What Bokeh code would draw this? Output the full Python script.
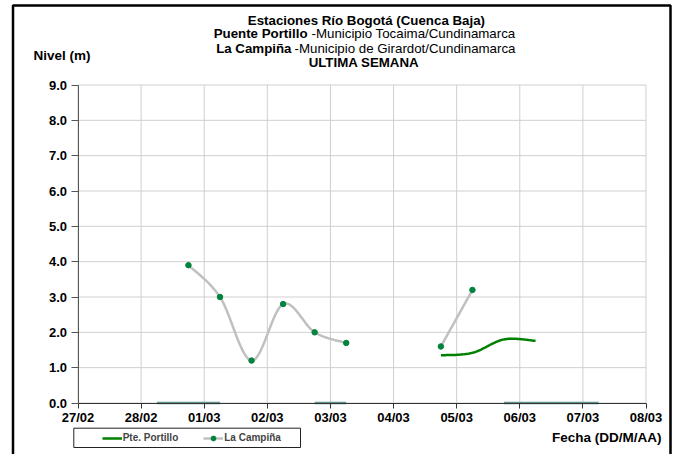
import numpy as np
import pandas as pd
from bokeh.plotting import figure
from bokeh.models import (FixedTicker, DatetimeTickFormatter, PrintfTickFormatter,
                          Label, Legend, LegendItem, BoxAnnotation, Range1d)
from bokeh.embed import file_html
from bokeh.resources import INLINE

# ---------------- data ----------------
fechas_eje = ["2019-02-27", "2019-02-28", "2019-03-01", "2019-03-02", "2019-03-03",
              "2019-03-04", "2019-03-05", "2019-03-06", "2019-03-07", "2019-03-08"]
niveles_eje = [0.0, 1.0, 2.0, 3.0, 4.0, 5.0, 6.0, 7.0, 8.0, 9.0]

portillo_fecha = ["2019-03-04 18:00", "2019-03-05 06:00", "2019-03-05 18:00", "2019-03-06 06:00"]
portillo_nivel = [1.35, 1.42, 1.80, 1.76]

campina_fecha = ["2019-02-28 18:00", "2019-03-01 06:00", "2019-03-01 18:00", "2019-03-02 06:00",
                 "2019-03-02 18:00", "2019-03-03 06:00", "2019-03-03 18:00", "2019-03-04 06:00",
                 "2019-03-04 18:00", "2019-03-05 06:00"]
campina_nivel = [3.9, 3.0, 1.2, 2.8, 2.0, 1.7, None, None, 1.6, 3.2]

# readings at 0.0 drawn on the axis
cero_inicio = ["2019-02-28 06:00", "2019-03-02 18:00", "2019-03-05 18:00"]
cero_fin = ["2019-03-01 06:00", "2019-03-03 06:00", "2019-03-07 06:00"]

titulo_1 = "Estaciones Río Bogotá (Cuenca Baja)"
titulo_2a, titulo_2b = "Puente Portillo", "-Municipio Tocaima/Cundinamarca"
titulo_3a, titulo_3b = "La Campiña", "-Municipio de Girardot/Cundinamarca"
titulo_4 = "ULTIMA SEMANA"
eje_y_titulo = "Nivel (m)"
eje_x_titulo = "Fecha (DD/M/AA)"

# ---------------- helpers ----------------
def ms(fechas):
    return pd.to_datetime(pd.Series(fechas)).astype("int64").to_numpy() / 1e6


def suavizar(xs, ys, n=30):
    """Excel-like smoothed line (cubic Bezier through each reading)."""
    xs = np.asarray(xs, dtype=float)
    ys = np.array([np.nan if v is None else v for v in ys], dtype=float)
    segs, cur = [], []
    for x, y in zip(xs, ys):
        if np.isnan(y):
            if cur:
                segs.append(cur)
            cur = []
        else:
            cur.append((x, y))
    if cur:
        segs.append(cur)
    ox, oy = [], []
    t = np.linspace(0, 1, n)[:, None]
    for seg in segs:
        P = np.array(seg)
        m = len(P)
        if m == 1:
            ox += [P[0, 0]]; oy += [P[0, 1]]
        for i in range(m - 1):
            p0 = P[max(i - 1, 0)]; p1 = P[i]; p2 = P[i + 1]; p3 = P[min(i + 2, m - 1)]
            c1 = p1 + (p2 - p0) / 6.0
            c2 = p2 - (p3 - p1) / 6.0
            B = ((1 - t) ** 3) * p1 + 3 * ((1 - t) ** 2) * t * c1 + 3 * (1 - t) * t ** 2 * c2 + t ** 3 * p2
            ox += list(B[:, 0]); oy += list(B[:, 1])
        ox.append(np.nan); oy.append(np.nan)
    return np.array(ox), np.array(oy)


# ---------------- layout (pixels on the page) ----------------
W, H = 679, 454
X_FIRST_PX, X_LAST_PX = 77.5, 645.5     # first / last date tick
Y_ZERO_PX, Y_TOP_PX = 402.5, 84.5       # level 0 / level 9

def sx(page_x):          # frame covers the whole canvas
    return page_x
def sy(page_y):
    return H - page_y

eje_ms = ms(fechas_eje)
x_per_px = (eje_ms[-1] - eje_ms[0]) / (X_LAST_PX - X_FIRST_PX)
y_per_px = (niveles_eje[-1] - niveles_eje[0]) / (Y_ZERO_PX - Y_TOP_PX)
x_range = Range1d(eje_ms[0] - X_FIRST_PX * x_per_px, eje_ms[-1] + (W - X_LAST_PX) * x_per_px)
y_range = Range1d(niveles_eje[0] - (H - Y_ZERO_PX) * y_per_px, niveles_eje[-1] + Y_TOP_PX * y_per_px)

# ---------------- figure ----------------
p = figure(width=W, height=H, output_backend="svg", toolbar_location=None,
           x_axis_type="datetime", title=None, x_range=x_range, y_range=y_range,
           min_border=0, min_border_left=0, min_border_right=0,
           min_border_top=0, min_border_bottom=0)
p.background_fill_color = "white"
p.border_fill_color = "white"
p.outline_line_color = None
p.xgrid.visible = False
p.ygrid.visible = False

GRID = "#cfcfcf"
# grid lines of the plotting area
p.segment(x0=eje_ms, y0=[niveles_eje[0]] * len(eje_ms), x1=eje_ms, y1=[niveles_eje[-1]] * len(eje_ms),
          line_color=GRID, line_width=1)
p.segment(x0=[eje_ms[0]] * len(niveles_eje), y0=niveles_eje, x1=[eje_ms[-1]] * len(niveles_eje),
          y1=niveles_eje, line_color=GRID, line_width=1)

# axes, pinned to the plotting area
p.xaxis.fixed_location = niveles_eje[0]
p.xaxis.bounds = (eje_ms[0], eje_ms[-1])
p.yaxis.fixed_location = eje_ms[0]
p.yaxis.bounds = (niveles_eje[0], niveles_eje[-1])
p.xaxis.ticker = FixedTicker(ticks=list(eje_ms))
p.xaxis.formatter = DatetimeTickFormatter(days="%d/%m", months="%d/%m", hours="%d/%m")
p.yaxis.ticker = FixedTicker(ticks=niveles_eje)
p.yaxis.formatter = PrintfTickFormatter(format="%.1f")

for ax in (p.xaxis[0], p.yaxis[0]):
    ax.major_label_text_font = "Liberation Sans"
    ax.major_label_text_font_size = "13px"
    ax.major_label_text_font_style = "bold"
    ax.major_label_text_color = "black"
    ax.minor_tick_line_color = None
    ax.major_tick_in = 0
p.yaxis.axis_line_color = "#555555"
p.yaxis.major_tick_line_color = "#555555"
p.yaxis.major_tick_out = 7
p.yaxis.major_label_standoff = 4
p.xaxis.axis_line_color = "#333333"
p.xaxis.major_tick_line_color = "#333333"
p.xaxis.major_tick_out = 5
p.xaxis.major_label_standoff = 2

# zero readings on the axis
p.segment(x0=ms(cero_inicio), y0=[0.0] * len(cero_inicio), x1=ms(cero_fin), y1=[0.0] * len(cero_fin),
          line_color="#5f9190", line_width=2.5)

# series
cx, cy = suavizar(ms(campina_fecha), campina_nivel)
campina_line = p.line(cx, cy, line_color="#c0c0c0", line_width=2.5)
cm_x = [x for x, v in zip(ms(campina_fecha), campina_nivel) if v is not None]
cm_y = [v for v in campina_nivel if v is not None]
campina_pts = p.scatter(cm_x, cm_y, marker="circle", size=5.5, fill_color="#00843d",
                        line_color="#00843d")

px, py = suavizar(ms(portillo_fecha), portillo_nivel)
portillo_line = p.line(px, py, line_color="#008000", line_width=2.5)

# legend
legend = Legend(items=[LegendItem(label="Pte. Portillo", renderers=[portillo_line]),
                       LegendItem(label="La Campiña", renderers=[campina_line, campina_pts])],
                orientation="horizontal", location=(sx(101.7), sy(447)),
                padding=0, margin=0, spacing=25, glyph_width=20, glyph_height=12,
                label_height=19, label_standoff=1,
                label_text_font="Liberation Sans", label_text_font_size="10px",
                label_text_font_style="bold", border_line_alpha=0, background_fill_alpha=0)
p.add_layout(legend, "center")

# legend frame and outer frame
p.add_layout(BoxAnnotation(left=sx(73.3), right=sx(300), top=sy(427.7), bottom=sy(447),
                           left_units="screen", right_units="screen",
                           top_units="screen", bottom_units="screen",
                           fill_alpha=0, line_color="#222222", line_alpha=1.0, line_width=1))
p.add_layout(BoxAnnotation(left=sx(12.5), right=sx(670), top=sy(5), bottom=sy(470),
                           left_units="screen", right_units="screen",
                           top_units="screen", bottom_units="screen",
                           fill_alpha=0, line_color="black", line_alpha=1.0, line_width=2.5))

# texts
def etiqueta(texto, x, y, align, bold=True, size="13.3px"):
    p.add_layout(Label(x=x, y=y, x_units="screen", y_units="screen", text=texto,
                       text_align=align, text_baseline="middle",
                       text_font="Liberation Sans", text_font_size=size,
                       text_font_style="bold" if bold else "normal", text_color="black"))

etiqueta(titulo_1, sx(365.9), sy(19.5), "center")
etiqueta(titulo_2a, sx(307), sy(33), "right")
etiqueta(titulo_2b, sx(311), sy(33), "left", bold=False)
etiqueta(titulo_3a, sx(291), sy(47.5), "right")
etiqueta(titulo_3b, sx(294), sy(47.5), "left", bold=False)
etiqueta(titulo_4, sx(363.4), sy(62), "center")
etiqueta(eje_y_titulo, sx(33), sy(55), "left", size="13.5px")
etiqueta(eje_x_titulo, sx(661), sy(437), "right", size="13.5px")

open("out.html", "w").write(file_html(p, INLINE))
